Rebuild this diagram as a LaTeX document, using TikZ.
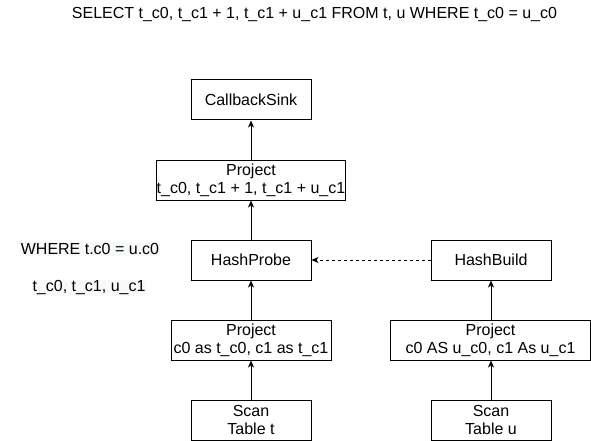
\documentclass[tikz,border=0pt]{standalone}
\usepackage{fontspec}
\setmainfont{Liberation Sans}
\usetikzlibrary{arrows.meta}
\definecolor{lblbg}{RGB}{248,249,250}
\begin{document}
\begin{tikzpicture}[x=1pt,y=-1pt,
  every node/.style={font=\fontsize{16}{18.4}\selectfont, inner sep=0pt},
  opbox/.style={draw=black, line width=1pt, minimum width=120pt, minimum height=40pt, align=center},
  widebox/.style={opbox, minimum width=160pt},
  widerbox/.style={opbox, minimum width=200pt},
  flow/.style={draw=black, line width=1pt, -{Stealth[length=7pt,width=6pt,inset=2pt]}},
  dflow/.style={flow, dash pattern=on 3pt off 3pt},
  lbl/.style={fill=lblbg, inner sep=1pt}
]
\useasboundingbox (0,0) rectangle (591,441);
\node (title) at (314.5,15) {SELECT t\_c0, t\_c1 + 1, t\_c1 + u\_c1 FROM t, u WHERE t\_c0 = u\_c0};

\node[opbox] (sink) at (251,100) {CallbackSink};
\node[widebox] (proj1) at (251,180) {Project\\t\_c0, t\_c1 + 1, t\_c1 + u\_c1};
\node[opbox] (probe) at (251,260) {HashProbe};
\node[opbox] (build) at (491,260) {HashBuild};
\node[widebox] (projt) at (251,340) {Project\\c0 as t\_c0, c1 as t\_c1};
\node[widerbox] (proju) at (490.5,340) {Project\\c0 AS u\_c0, c1 As u\_c1};
\node[opbox] (scant) at (251,420) {Scan\\Table t};
\node[opbox] (scanu) at (491,420) {Scan\\Table u};

\node[lbl] (where) at (90,249) {WHERE t.c0 = u.c0};
\node[lbl] (cols) at (89,288) {t\_c0, t\_c1, u\_c1};

\draw[flow] (proj1) -- (sink);
\draw[flow] (probe) -- (proj1);
\draw[flow] (projt) -- (probe);
\draw[flow] (scant) -- (projt);
\draw[flow] (scanu.north) -- (scanu.north |- proju.south);
\draw[flow] (proju.north -| build) -- (build);
\draw[dflow] (build) -- (probe);
\end{tikzpicture}
\end{document}
